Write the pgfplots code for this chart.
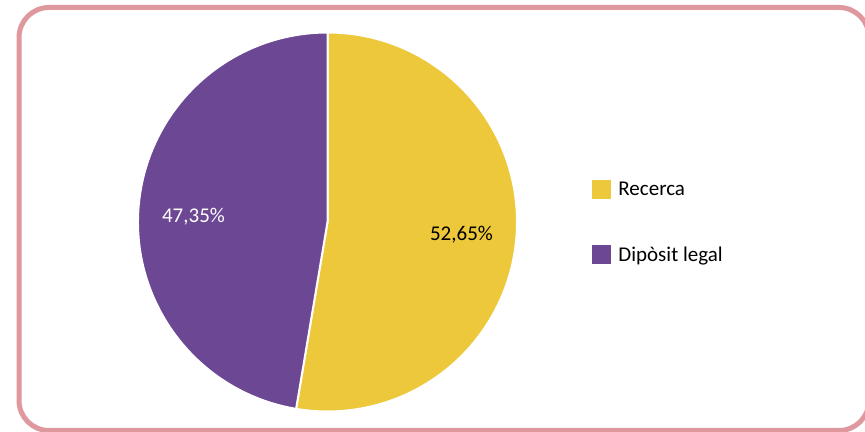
\documentclass[border=0pt]{standalone}
\usepackage{pgfplots}
\pgfplotsset{compat=1.18}
\usepackage{pgfplotstable}
\usepackage{fontspec}
\setmainfont{Carlito}
\definecolor{recerca}{RGB}{236,200,58}
\definecolor{diposit}{RGB}{108,71,148}
\definecolor{framec}{RGB}{222,152,158}
\pgfplotstableread{
value
52.65
47.35
}\piedata
\begin{document}
\begin{tikzpicture}
\pgfplotstablegetelem{0}{value}\of\piedata \let\va\pgfplotsretval
\pgfplotstablegetelem{1}{value}\of\piedata \let\vb\pgfplotsretval
\pgfmathsetmacro\aA{90}
\pgfmathsetmacro\aB{90-3.6*\va}
\pgfmathsetmacro\aC{\aB-3.6*\vb}
\begin{axis}[x=0.5pt,y=0.5pt,xmin=0,xmax=865,ymin=0,ymax=432,hide axis,
  at={(0,0)},anchor=south west,clip=false]
% frame
\draw[framec,line width=2.5pt,rounded corners=15pt]
  (axis cs:19,1.5) rectangle (axis cs:869,424.5);
% pie slices
\fill[recerca,draw=white,line width=1pt] (axis cs:327.5,210) -- (axis cs:{327.5+189.5*cos(\aA)},{210+189.5*sin(\aA)})
  arc[start angle=\aA,end angle=\aB,radius=94.75pt] -- cycle;
\fill[diposit,draw=white,line width=1pt] (axis cs:327.5,210) -- (axis cs:{327.5+189.5*cos(\aB)},{210+189.5*sin(\aB)})
  arc[start angle=\aB,end angle=\aC,radius=94.75pt] -- cycle;
% data labels
\node[font=\fontsize{10.5}{12}\selectfont,white] at (axis cs:193.5,215.3) {47,35\%};
\node[font=\fontsize{10.5}{12}\selectfont,black] at (axis cs:461.5,197) {52,65\%};
% legend
\fill[recerca] (axis cs:592,233) rectangle (axis cs:611,252);
\fill[diposit] (axis cs:592,168) rectangle (axis cs:611,187);
\node[font=\fontsize{10.5}{12}\selectfont,anchor=base west,inner sep=0pt] at (axis cs:618,236) {Recerca};
\node[font=\fontsize{10.5}{12}\selectfont,anchor=base west,inner sep=0pt] at (axis cs:618,170.3) {Dipòsit legal};
\end{axis}
\pgfresetboundingbox
\clip (0,0) rectangle (432.5pt,216pt);
\path[use as bounding box] (0,0) rectangle (432.5pt,216pt);
\end{tikzpicture}
\end{document}
